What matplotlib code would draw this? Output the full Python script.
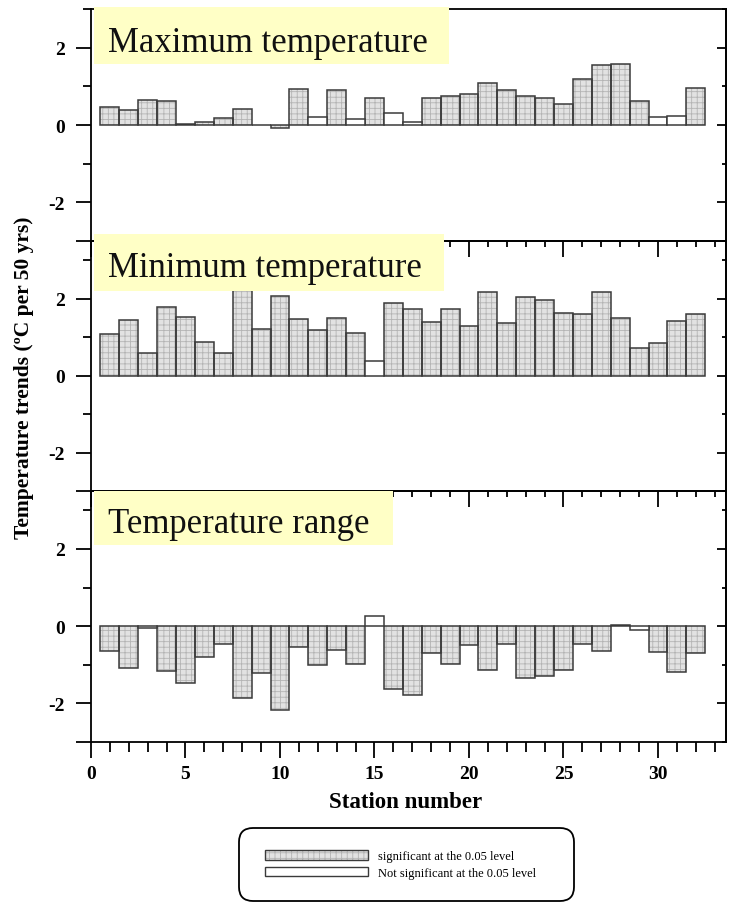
import matplotlib
matplotlib.use("Agg")
import matplotlib.pyplot as plt
from matplotlib.patches import Rectangle, FancyBboxPatch, Patch
from matplotlib.ticker import FixedLocator, FixedFormatter

plt.rcParams['font.family'] = ['Liberation Serif', 'DejaVu Serif']
plt.rcParams['hatch.linewidth'] = 0.6

stations = list(range(1, 33))

max_vals = [0.46, 0.39, 0.64, 0.61, 0.03, 0.09, 0.18, 0.41, -0.01, -0.09,
            0.94, 0.20, 0.90, 0.16, 0.70, 0.32, 0.07, 0.71, 0.76, 0.80,
            1.09, 0.91, 0.74, 0.70, 0.54, 1.18, 1.54, 1.57, 0.62, 0.20,
            0.22, 0.95]
max_sig = [1, 1, 1, 1, 1, 1, 1, 1, 1, 1, 1, 0, 1, 0, 1, 0, 0, 1, 1, 1,
           1, 1, 1, 1, 1, 1, 1, 1, 1, 0, 0, 1]

min_vals = [1.09, 1.44, 0.58, 1.79, 1.52, 0.88, 0.58, 2.35, 1.21, 2.07,
            1.46, 1.18, 1.51, 1.11, 0.39, 1.90, 1.72, 1.39, 1.72, 1.29,
            2.18, 1.36, 2.04, 1.96, 1.64, 1.60, 2.18, 1.51, 0.71, 0.85,
            1.42, 1.59]
min_sig = [1] * 14 + [0] + [1] * 17

range_vals = [-0.64, -1.09, -0.06, -1.15, -1.48, -0.81, -0.46, -1.85, -1.21, -2.18,
              -0.53, -1.00, -0.61, -0.98, 0.26, -1.62, -1.79, -0.69, -0.99, -0.49,
              -1.13, -0.46, -1.34, -1.28, -1.14, -0.45, -0.64, 0.03, -0.10, -0.67,
              -1.20, -0.69]
range_sig = [1, 1, 0, 1, 1, 1, 1, 1, 1, 1, 1, 1, 1, 1, 0, 1, 1, 1, 1, 1,
             1, 1, 1, 1, 1, 1, 1, 0, 0, 1, 1, 1]

panel_titles = ["Maximum temperature", "Minimum temperature", "Temperature range"]
legend_labels = ["significant at the 0.05 level", "Not significant at the 0.05 level"]
x_ticks = [0, 5, 10, 15, 20, 25, 30]

W, H = 730, 904
fig = plt.figure(figsize=(W / 100, H / 100), dpi=100)

FILL = '#e2e2e2'
HATCH_C = '#b4b4b4'
EDGE = '#3a3a3a'
YELLOW = '#ffffc6'

left_px, right_px = 91, 726
panels = [(10, 242, (-3, 3)), (242, 492, (-3, 3.5)), (492, 743, (-3, 3.5))]
series = [(max_vals, max_sig), (min_vals, min_sig), (range_vals, range_sig)]
boxes = [(94, 8, 449, 65, 52), (94, 235, 444, 292, 277), (94, 492, 393, 546, 533)]

axes = []
for i, ((top, bot, ylim), (vals, sig)) in enumerate(zip(panels, series)):
    ax = fig.add_axes([left_px / W, 1 - bot / H, (right_px - left_px) / W, (bot - top) / H])
    ax.set_facecolor('none')
    sig_x = [s for s, g in zip(stations, sig) if g]
    sig_v = [v for v, g in zip(vals, sig) if g]
    ns_x = [s for s, g in zip(stations, sig) if not g]
    ns_v = [v for v, g in zip(vals, sig) if not g]
    ax.bar(sig_x, sig_v, width=1.0, color=FILL, edgecolor=HATCH_C, hatch='+++', linewidth=0, zorder=2)
    ax.bar(sig_x, sig_v, width=1.0, facecolor='none', edgecolor=EDGE, linewidth=1.1, zorder=3)
    ax.bar(ns_x, ns_v, width=1.0, facecolor='white', edgecolor=EDGE, linewidth=1.1, zorder=3)
    ax.set_xlim(0, 33.6)
    ax.set_ylim(*ylim)

    for sp in ax.spines.values():
        sp.set_linewidth(1.3)
        sp.set_color('black')

    # y ticks left
    ax.yaxis.set_major_locator(FixedLocator([-3, -2, 0, 2]))
    ax.yaxis.set_major_formatter(FixedFormatter(['', '-2', '0', '2']))
    ax.yaxis.set_minor_locator(FixedLocator([-1, 1, 3]))
    ax.tick_params(axis='y', which='major', direction='out', length=11, width=1.3,
                   labelsize=14, pad=8, left=True, right=False)
    ax.tick_params(axis='y', which='minor', direction='out', length=6, width=1.3,
                   left=True, right=False)
    for lab in ax.get_yticklabels():
        lab.set_fontweight('bold')

    # right ticks (inward)
    sec = ax.secondary_yaxis('right')
    sec.yaxis.set_major_locator(FixedLocator([-2, 0, 2]))
    sec.yaxis.set_minor_locator(FixedLocator([-3, -1, 1, 3]))
    sec.tick_params(which='major', direction='in', length=6.5, width=1.3, labelright=False)
    sec.tick_params(which='minor', direction='in', length=3, width=1.3, labelright=False)
    sec.spines['right'].set_linewidth(1.3)

    # x ticks
    ax.xaxis.set_major_locator(FixedLocator(x_ticks))
    ax.xaxis.set_minor_locator(FixedLocator(list(range(0, 34))))
    if i < 2:
        ax.tick_params(axis='x', which='major', direction='out', length=11.5, width=1.3,
                       labelbottom=False, top=False)
        ax.tick_params(axis='x', which='minor', direction='out', length=4.5, width=1.3, top=False)
    else:
        ax.tick_params(axis='x', which='major', direction='out', length=11.5, width=1.3,
                       labelsize=14, pad=5, top=False)
        ax.tick_params(axis='x', which='minor', direction='out', length=7, width=1.3, top=False)
        for lab in ax.get_xticklabels():
            lab.set_fontweight('bold')
    axes.append(ax)

# yellow title boxes
for (x0, y0, x1, y1, base), title in zip(boxes, panel_titles):
    fig.add_artist(Rectangle((x0 / W, 1 - y1 / H), (x1 - x0) / W, (y1 - y0) / H,
                             transform=fig.transFigure, facecolor=YELLOW, edgecolor='none',
                             zorder=10))
    fig.text((x0 + 14) / W, 1 - base / H, title, fontsize=25, va='baseline', ha='left',
             zorder=11, color='#111111')

fig.text(24 / W, 1 - 378 / H, "Temperature trends (ºC per 50 yrs)", rotation=90,
         ha='center', va='center', fontsize=15.5, fontweight='bold')
fig.text(406 / W, 1 - 803 / H, "Station number", ha='center', va='center',
         fontsize=16.5, fontweight='bold')

# legend
lax = fig.add_axes([238 / W, 1 - 903 / H, 337 / W, 75 / H])
lax.set_xlim(0, 337)
lax.set_ylim(0, 75)
lax.axis('off')
lax.add_patch(FancyBboxPatch((1, 1), 335, 73, boxstyle='round,pad=0,rounding_size=14',
                             facecolor='white', edgecolor='black', linewidth=1.3,
                             clip_on=False))
h_sig = (Patch(facecolor=FILL, edgecolor=HATCH_C, hatch='+++', linewidth=0),
         Patch(facecolor='none', edgecolor=EDGE, linewidth=1.0))
h_ns = Patch(facecolor='white', edgecolor=EDGE, linewidth=1.0)
lax.legend([h_sig, h_ns], legend_labels, loc='center left', bbox_to_anchor=(27 / 337, 37.5 / 75),
           frameon=False, fontsize=9, handlelength=8.2, handleheight=0.8,
           labelspacing=0.35, handletextpad=0.8, borderpad=0, borderaxespad=0)

fig.savefig('out.png', dpi=100)
